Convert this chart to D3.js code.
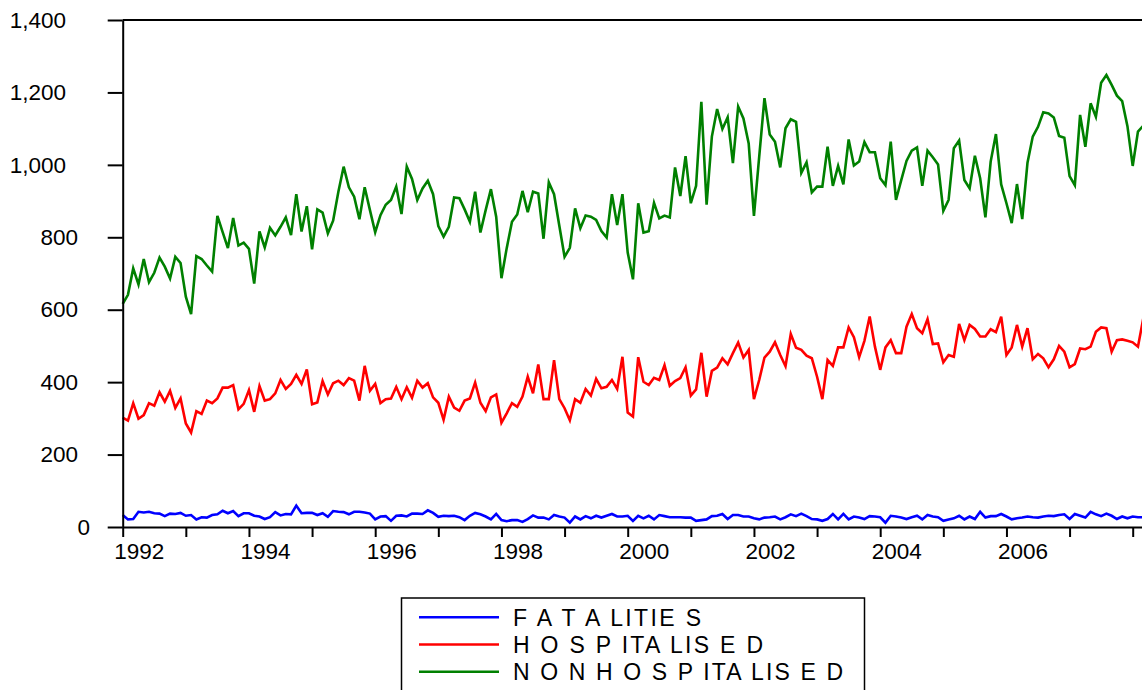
<!DOCTYPE html>
<html>
<head>
<meta charset="utf-8">
<script src="https://cdn.jsdelivr.net/npm/d3@7"></script>
<style>
    body { margin: 0; background: white; }
    svg { display: block; font-family: "Liberation Sans", Arial, sans-serif; }
</style>
</head>
<body>
<svg id="chart"></svg>
<script>

// monthly series, 1992M01 onwards (one row per year)

const fatalities = [
    33, 21, 22, 42, 40, 42, 38, 37, 30, 37, 36, 39,
    31, 33, 21, 27, 26, 33, 35, 45, 38, 44, 30, 38,
    38, 31, 29, 22, 27, 41, 32, 36, 35, 59, 38, 39,
    39, 33, 38, 28, 44, 42, 41, 35, 42, 42, 40, 37,
    21, 29, 30, 17, 31, 32, 29, 37, 37, 36, 46, 39,
    28, 31, 30, 31, 27, 19, 31, 39, 35, 29, 21, 36,
    19, 16, 19, 19, 14, 22, 32, 26, 26, 21, 33, 29,
    26, 12, 29, 21, 30, 24, 31, 26, 31, 36, 29, 29,
    31, 17, 31, 24, 31, 21, 33, 30, 27, 27, 27, 26,
    26, 17, 19, 21, 30, 31, 36, 22, 33, 33, 29, 29,
    24, 21, 26, 27, 29, 21, 27, 35, 30, 37, 30, 22,
    21, 17, 22, 36, 21, 36, 21, 29, 26, 22, 30, 29,
    27, 12, 31, 29, 26, 22, 27, 31, 21, 33, 29, 27,
    17, 21, 24, 31, 21, 29, 22, 42, 26, 30, 30, 36,
    29, 21, 24, 26, 29, 27, 26, 29, 31, 30, 33, 35,
    22, 36, 31, 26, 42, 35, 30, 37, 31, 22, 29, 24,
    29, 27, 27
];

const hospitalised = [
    302, 294, 342, 299, 309, 342, 335, 372, 346, 376, 329, 355,
    286, 261, 320, 312, 349, 342, 355, 385, 385, 392, 325, 340,
    378, 318, 389, 349, 353, 369, 406, 381, 395, 420, 395, 435,
    339, 344, 403, 366, 397, 404, 392, 411, 404, 349, 445, 376,
    395, 342, 353, 355, 387, 353, 386, 357, 404, 385, 397, 358,
    343, 296, 360, 330, 321, 349, 355, 399, 343, 320, 358, 366,
    288, 314, 342, 332, 360, 415, 369, 449, 353, 353, 461, 353,
    328, 295, 353, 343, 381, 363, 409, 383, 387, 406, 381, 470,
    316, 305, 469, 401, 392, 412, 406, 447, 390, 403, 411, 441,
    363, 380, 481, 360, 431, 440, 466, 449, 480, 509, 468, 489,
    353, 406, 468, 484, 510, 475, 444, 533, 495, 489, 473, 466,
    415, 353, 461, 445, 496, 496, 551, 524, 469, 514, 581, 498,
    434, 496, 516, 480, 480, 553, 588, 549, 535, 574, 505, 507,
    455, 475, 470, 561, 516, 558, 547, 526, 526, 546, 538, 581,
    475, 496, 558, 498, 549, 463, 478, 466, 441, 463, 500, 484,
    441, 450, 493, 491, 498, 539, 551, 549, 484, 516, 518, 514,
    510, 498, 575
];

const nonHospitalised = [
    616, 641, 714, 670, 740, 676, 702, 744, 719, 686, 746, 729,
    636, 588, 748, 740, 722, 705, 859, 814, 770, 853, 777, 785,
    768, 672, 816, 772, 826, 805, 829, 855, 806, 919, 816, 886,
    767, 877, 868, 811, 846, 926, 995, 938, 912, 850, 938, 875,
    814, 861, 890, 903, 940, 864, 995, 961, 903, 935, 956, 919,
    831, 802, 829, 910, 908, 877, 843, 926, 813, 875, 933, 857,
    687, 770, 843, 863, 928, 869, 926, 921, 796, 952, 919, 832,
    746, 771, 880, 825, 860, 857, 848, 817, 799, 919, 834, 919,
    758, 684, 894, 813, 817, 895, 852, 860, 855, 993, 914, 1024,
    894, 942, 1174, 890, 1078, 1154, 1099, 1131, 1005, 1161, 1128, 1059,
    859, 1023, 1184, 1084, 1064, 993, 1101, 1126, 1119, 978, 1007, 924,
    940, 940, 1050, 942, 997, 946, 1070, 998, 1009, 1063, 1035, 1035,
    963, 944, 1064, 903, 958, 1011, 1039, 1048, 942, 1039, 1021, 1001,
    873, 903, 1046, 1067, 958, 935, 1025, 963, 855, 1009, 1085, 946,
    894, 839, 947, 850, 1006, 1078, 1105, 1145, 1142, 1131, 1080, 1075,
    969, 944, 1138, 1050, 1170, 1133, 1227, 1248, 1221, 1191, 1176, 1107,
    997, 1092, 1108
];

const startYear = 1992;
const yearTicks = d3.range(1992, 2009);
const yearLabels = [1992, 1994, 1996, 1998, 2000, 2002, 2004, 2006];
const valueTicks = [0, 200, 400, 600, 800, 1000, 1200, 1400];

// EViews spaced the legend letters like this
const legendLabels = ["F A T A LITIE S", "H O S P ITA LIS E D", "N O N H O S P ITA LIS E D"];
const legendWidths = [188, 250, 330];

const series = [
    {values: fatalities, color: "#0000ff"},
    {values: hospitalised, color: "#ff0000"},
    {values: nonHospitalised, color: "#008000"}
];

const width = 1142;
const height = 690;

// plot box (right side runs off the picture, as in the original)
const plotLeft = 122.7, plotRight = 1142, plotTop = 20, plotBottom = 527;
const yearPx = 63.125;

const svg = d3.select("#chart")
    .attr("width", width)
    .attr("height", height);

const x = d3.scaleLinear()
    .domain([startYear, startYear + (plotRight - plotLeft) / yearPx])
    .range([plotLeft, plotRight]);

const y = d3.scaleLinear()
    .domain([0, 1400])
    .range([plotBottom, plotTop]);

const line = d3.line()
    .x((d, i) => x(startYear + i / 12))
    .y(d => y(d));

series.forEach(function (s)
{
    svg.append("path")
        .datum(s.values)
        .attr("fill", "none")
        .attr("stroke", s.color)
        .attr("stroke-width", 2.6)
        .attr("d", line);
});

// left axis, labels sit a bit oddly in the original so nudge by length
const yAxis = svg.append("g")
    .attr("transform", `translate(${plotLeft},0)`)
    .call(d3.axisLeft(y)
        .tickValues(valueTicks)
        .tickSize(15)
        .tickSizeOuter(0)
        .tickFormat(d3.format(",")));

yAxis.selectAll("text")
    .attr("x", function (d) { return 96 - 6 * d3.format(",")(d).length - plotLeft; })
    .attr("font-size", 22.5)
    .attr("fill", "black");

const xAxis = svg.append("g")
    .attr("transform", `translate(0,${plotBottom})`)
    .call(d3.axisBottom(x)
        .tickValues(yearTicks)
        .tickSize(10)
        .tickSizeOuter(0)
        .tickPadding(6)
        .tickFormat(d => yearLabels.includes(d) ? d : ""));

xAxis.selectAll("text")
    .attr("dx", 16)
    .attr("font-size", 22.5)
    .attr("fill", "black");

svg.selectAll(".domain, .tick line")
    .attr("stroke", "black")
    .attr("stroke-width", 2);

// top frame line
svg.append("line")
    .attr("x1", plotLeft)
    .attr("x2", plotRight)
    .attr("y1", plotTop)
    .attr("y2", plotTop)
    .attr("stroke", "black")
    .attr("stroke-width", 2);

// legend
const legend = svg.append("g");

legend.append("rect")
    .attr("x", 401.5)
    .attr("y", 598)
    .attr("width", 463)
    .attr("height", 100)
    .attr("fill", "white")
    .attr("stroke", "black")
    .attr("stroke-width", 1.5);

series.forEach(function (s, i)
{
    const ly = 617.3 + i * 27.2;

    legend.append("line")
        .attr("x1", 419)
        .attr("x2", 499)
        .attr("y1", ly)
        .attr("y2", ly)
        .attr("stroke", s.color)
        .attr("stroke-width", 2.6);

    legend.append("text")
        .attr("x", 513)
        .attr("y", ly)
        .attr("dy", "0.36em")
        .attr("font-size", 23)
        .attr("textLength", legendWidths[i])
        .attr("lengthAdjust", "spacing")
        .text(legendLabels[i]);
});

</script>
</body>
</html>
